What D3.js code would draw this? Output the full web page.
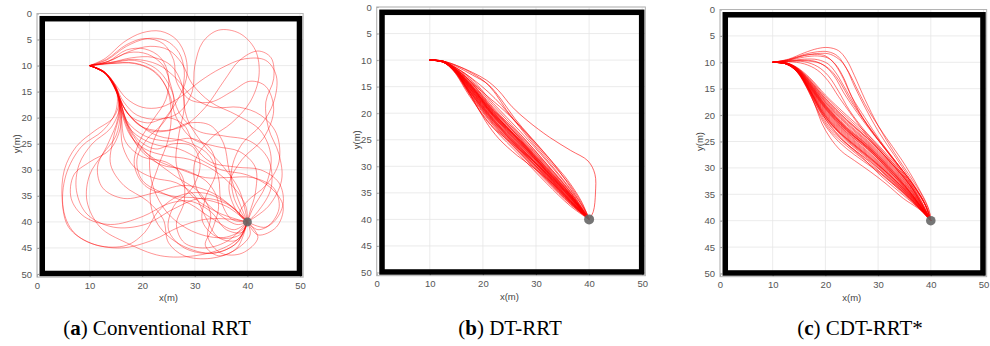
<!DOCTYPE html>
<html>
<head>
<meta charset="utf-8">
<script src="https://cdn.jsdelivr.net/npm/d3@7"></script>
<style>
  body { margin: 0; background: #fff; }
  svg { display: block; }
</style>
</head>
<body>
<svg id="chart" width="990" height="346"></svg>
<script>
// ---- data ----
const xTicks = [0, 10, 20, 30, 40, 50]
const yTicks = [0, 5, 10, 15, 20, 25, 30, 35, 40, 45, 50]
const xLabel = "x(m)"
const yLabel = "y(m)"
const startPoint = [10, 10]
const goalPoint = [40, 40]
const wallMin = 1
const wallMax = 49.9
const captionTags = ["a", "b", "c"]
const captionNames = [" Conventional RRT", " DT-RRT", " CDT-RRT*"]

// conventional RRT: loopy paths
const pathsA = [
  [[10,10],[13,8.6],[16.5,5.5],[20,3.7],[23.5,3.4],[26.5,5],[28.3,8.5],[28.4,12.5],[26.5,17],[23.5,21.5],[21.5,27],[22,33],[25,38.5],[30,42],[35.5,43],[39,41.5],[40,40]],
  [[10,10],[13.3,8.9],[17,6.3],[21,4.8],[24.5,5.2],[27,7.5],[28,11],[27.8,15],[28.5,20],[31.5,25],[35.5,29.5],[38.5,34],[40,40]],
  [[10,10],[13.6,9.2],[17.5,7.3],[21.5,6.3],[25,7],[27.5,9.5],[29.5,13.5],[33,17],[38,19.5],[42.5,22.5],[44.5,27.5],[43.5,33],[41,37.5],[40,40]],
  [[10,10],[14,9.4],[18,8.5],[22,8.4],[25.5,10],[27.5,13.5],[28,18],[27,23],[26.5,29],[29,34.5],[34,38],[38,39.5],[40,40]],
  [[10,10],[14.2,9.6],[18.5,9.6],[22,11],[24.5,14],[25.5,18.5],[25,24],[23,29.5],[21.5,35],[23,40.5],[27.5,44.5],[33.5,46],[38,44],[40,40]],
  [[10,10],[12.8,11.2],[14.8,13.5],[17,16.3],[20,18],[23.5,18],[27,16.2],[31,13],[35,10.5],[39.5,8.7],[43.5,9],[45.5,12],[45,17],[42.5,21.5],[39,25],[37,30],[37.5,35.5],[40,40]],
  [[10,10],[12.8,11.3],[14.9,14],[16.5,17],[19,19.5],[23,20.3],[27,19],[29.5,15],[30,10],[31.5,5.5],[34.5,3.2],[38.5,3.8],[41.5,7],[42.2,12],[40.5,17],[37,21],[33,24],[30,28.5],[30.5,34],[34,38],[38,40.5],[40,40]],
  [[10,10],[12.8,11.2],[15,14.5],[16.8,18.5],[19.5,21.5],[23.5,22.5],[28,21.5],[32,18],[35.5,13],[38.5,9],[42,7.2],[44.5,8.5],[45,12.5],[43.5,17],[44,22],[46,27],[46.5,32],[44,37],[40,40]],
  [[10,10],[12.8,11.2],[14.9,13.8],[15.6,17],[14.5,20],[11,22.5],[7.5,25.5],[5.2,30],[4.8,36],[6,41],[10,44],[16,45],[22,43.5],[27,41],[32,39.5],[37,39.5],[40,40]],
  [[10,10],[12.8,11.3],[15,14.3],[15.7,18],[14,22],[10.5,25],[8,29],[7.5,34],[9.5,38.5],[14.5,41],[20.5,40.5],[26,37.5],[31,35.5],[36,36.5],[40,40]],
  [[10,10],[12.9,11.4],[15.1,14.8],[15.8,19],[15,23.5],[12.5,27],[10,31],[9.5,36],[12,41],[17,44],[23.5,46.5],[30,46.5],[35.5,45],[39,42.5],[40,40]],
  [[10,10],[12.9,11.4],[15.2,15],[16.2,19.5],[17.8,23.5],[20.5,26],[24.5,27.3],[29,28],[33.5,30],[37.5,33.5],[39.7,37],[40,40]],
  [[10,10],[13,11.5],[15.4,15.4],[16.8,20],[19,24],[22.5,26],[26,25],[29.5,25.5],[31,29],[29.5,33.5],[26,37],[25,41.5],[28,45],[33.5,46],[38,44],[40,40]],
  [[10,10],[12.9,11.4],[15.2,15.2],[15.4,20],[13.5,25],[11.5,29.5],[12.5,33.5],[16.5,35.5],[22,34.5],[28,33],[33.5,34.5],[37.5,37.5],[40,40]],
  [[10,10],[13,11.6],[15.5,16],[17,21],[19.5,26],[23.5,29],[28,30],[32.5,32.5],[34.5,36.5],[33.5,41],[32,44.5],[34.5,46.5],[38,45],[40,40]],
  [[10,10],[12.9,11.3],[15.1,14.6],[16.2,17.5],[18.5,20.5],[21.5,22.5],[25,22.5],[29,21],[33,21.5],[35.5,25],[36.5,30],[38,35],[40,40]],
  [[10,10],[13,11.5],[15.3,15.6],[15.9,20.5],[16.3,25.5],[18.5,29.5],[22,31.5],[26.5,32.5],[30,35],[32,39],[34.5,43],[38,43.5],[40,40]],
  [[10,10],[12.9,11.3],[15.1,14.8],[14.9,19],[12.5,22.5],[8.5,25.5],[5.5,31],[5,37.5],[7,42],[11.5,44.5],[17,44.5],[20.5,42],[23,38],[27,35],[32,34.5],[37,37],[40,40]],
  [[10,10],[13,11.5],[15.4,15.5],[17.5,19.5],[21,21],[25,20],[28,21.5],[30,25.5],[33,28.5],[38,29.5],[42.5,30],[46,32.5],[46.8,36.5],[45,40],[42,41.5],[40,40]],
  [[10,10],[13.5,9.2],[17.5,7.5],[21,7.8],[24,10],[25.5,14],[27,19],[30.5,22.5],[35.5,23.5],[40.5,24.5],[44,28],[44.5,33.5],[42,38],[40,40]],
  [[10,10],[13,11.5],[15.3,15.3],[16.5,20],[18.5,24.5],[22.5,28],[27.5,30],[32,31.5],[36,31.5],[41,31.5],[45,33.5],[46,37.5],[43.5,41],[40,40]],
  [[10,10],[13,11.6],[15.5,16],[17.5,22],[21,27],[26,31],[31,34.5],[33,38.5],[32.5,43],[35,46],[39,46],[42,43],[40,40]],
  [[10,10],[12.9,11.4],[15.2,14.8],[15.7,19],[14.5,24],[14,29],[16.5,33],[21,36],[24,39.5],[25,44],[28,46.5],[33,47],[37.5,45.5],[40.5,42.5],[40,40]],
  [[10,10],[14,9.6],[18.5,9.5],[22.5,11.2],[25,15],[26.5,20],[29.5,24],[34,25.5],[38.5,26.5],[41.5,29.5],[41.5,34.5],[40.5,38],[40,40]],
  [[10,10],[13,11.5],[15.4,15.5],[17,20.5],[20.5,23.5],[25,24.5],[29.5,24],[33,26],[34,30.5],[32,35.5],[31.5,40],[34.5,43],[38.5,42.5],[40,40]],
  [[10,10],[13.5,9.2],[17,7],[20.5,6.8],[23.5,8.5],[25,12],[24.5,16.5],[22,20.5],[19.5,24.5],[18.5,29],[20.5,33],[25.5,35],[31,35.5],[36,37],[40,40]],
  [[10,10],[12.8,11.2],[15,14],[16.2,17.5],[19,21],[23,23.5],[28,24.5],[32.5,27],[34.5,31.5],[35,36],[37,39.5],[40,40]],
  [[10,10],[14,9.4],[18.5,8.8],[23,9.8],[26.5,12.5],[29.5,16],[33.5,18],[38.5,18],[42.5,19.5],[45.5,23],[46,28.5],[43.5,33],[40,36],[38.5,38.5],[40,40]],
  [[10,10],[12.9,11.4],[15.2,15],[16,19.5],[16.8,24.5],[20,27.5],[24.5,28.5],[27.5,31],[28,36],[26.5,40.5],[28,44],[32,45],[36.5,43.5],[40,40]],
  [[10,10],[13.2,8.8],[17,6],[20.5,4.8],[24,5.8],[26,9],[26.5,13],[29,16.5],[33,17],[37,15],[40.5,13],[43.5,14],[45,18.5],[43,24],[39,28],[36.5,33],[38,38],[40,40]],
  [[10,10],[12.9,11.3],[15.1,14.7],[16,18.5],[18,22.5],[22,25],[27,26],[31,28],[35,30],[40,31],[44.5,33.5],[46.8,37],[45.5,41],[42,42.5],[40,40]],
  [[10,10],[13,11.5],[15.3,15.4],[16,21],[14,26],[10,28.5],[7,31],[6.5,35.5],[9,39],[14,40.5],[20,39],[25,36.5],[29,36],[33,38],[36,41.5],[39,42],[40,40]],
  [[10,10],[14,9.5],[18.5,9],[22.5,10.5],[25,13.5],[26,17],[24,21],[21,24],[19,28],[20,32],[24,34.5],[29,36.5],[33.5,39.5],[37.5,41.5],[40,40]]
]

// DT-RRT: tight diagonal bundle plus a few outliers
const pathsB = [
  [[10,10],[12.5,10.2],[15,11],[18,12.3],[20.7,13.8],[23,15.8],[25.5,18.8],[28.5,21.5],[32.5,24.5],[36.5,27],[39.8,29],[41.1,31.5],[41.2,35],[40.8,38.5],[40,40]],
  [[10,10],[12.5,10.2],[15,11],[18,12.5],[20.5,14.2],[22.5,16.5],[24.5,19.5],[27,22.5],[30,26],[33,29.5],[36,33],[38.5,36.8],[40,40]],
  [[10,10],[12.5,10.2],[15,11.2],[18,12.8],[21,14.6],[23.5,17.5],[26,21],[29,24.5],[32.5,28.5],[35.5,32.5],[38,36.3],[40,40]],
  [[10,10],[12.5,10.3],[14.8,11.6],[17.5,13.8],[20.5,16.5],[24,19.5],[28,23.5],[32,28],[35.5,32],[38.5,36.5],[40,40]],
  [[10,10],[12.5,10.3],[14.5,11.8],[16.5,14.5],[18.5,18],[20.5,21.5],[23,24.8],[26.5,28],[30.5,31],[34.5,34.5],[38,38.2],[40,40]],
  [[10,10],[12.5,10.3],[14.5,11.8],[16.8,15.2],[19,19],[21.5,22.3],[25,25.3],[29,28.6],[33.5,32.8],[37.5,37],[40,40]],
  [[10,10],[12.5,10.3],[15,11.5],[18,13.5],[21,16],[23.5,18.5],[26,21.5],[29.5,25.8],[33.5,30.5],[37,35],[39.5,38.7],[40,40]],
  [[10,10],[12.5,10.3],[14.5,11.6],[17.5,15.0],[22,20.5],[27,25.8],[32,31.2],[36.5,36.0],[40,40]],
  [[10,10],[12.5,10.3],[14.5,11.5],[17.5,14.6],[22,20.0],[27,25.2],[32,30.6],[36.5,35.6],[40,40]],
  [[10,10],[12.5,10.3],[14.5,11.7],[17.5,15.4],[22,21.0],[27,26.3],[32,31.7],[36.5,36.4],[40,40]],
  [[10,10],[12.5,10.2],[14.5,11.4],[17.5,14.2],[22,19.5],[27,24.7],[32,30.2],[36.5,35.3],[40,40]],
  [[10,10],[12.5,10.3],[14.5,11.8],[17.5,15.8],[22,21.5],[27,26.9],[32,32.2],[36.5,36.7],[40,40]],
  [[10,10],[12.5,10.3],[14.5,11.6],[17.5,14.8],[22,19.8],[27,25.5],[32,31.0],[36.5,35.8],[40,40]],
  [[10,10],[12.5,10.3],[14.5,11.6],[17.5,15.2],[22,20.8],[27,26.0],[32,31.5],[36.5,36.2],[40,40]],
  [[10,10],[12.5,10.2],[14.5,11.3],[17.5,13.8],[22,19.0],[27,24.3],[32,29.8],[36.5,35.0],[40,40]],
  [[10,10],[12.5,10.4],[14.5,11.9],[17.5,16.2],[22,22.0],[27,27.3],[32,32.5],[36.5,37.0],[40,40]],
  [[10,10],[12.5,10.3],[14.5,11.5],[17.5,14.4],[22,20.3],[27,25.0],[32,30.9],[36.5,35.5],[40,40]],
  [[10,10],[12.5,10.3],[14.5,11.7],[17.5,15.6],[22,21.2],[27,26.6],[32,31.4],[36.5,36.1],[40,40]],
  [[10,10],[12.5,10.3],[14.5,11.6],[17.5,14.9],[22,20.2],[27,25.6],[32,30.8],[36.5,35.9],[40,40]],
  [[10,10],[12.5,10.3],[14.5,11.6],[17.5,15.1],[22,20.6],[27,25.9],[32,31.3],[36.5,36.3],[40,40]],
  [[10,10],[12.5,10.2],[14.5,11.2],[17.5,13.5],[22,18.6],[27,23.9],[32,29.5],[36.5,34.8],[40,40]],
  [[10,10],[12.5,10.4],[14.5,12.0],[17.5,16.5],[22,22.4],[27,27.6],[32,32.8],[36.5,37.2],[40,40]],
  [[10,10],[12.5,10.3],[14.5,11.5],[17.5,14.7],[22,20.4],[27,25.4],[32,31.1],[36.5,35.7],[40,40]],
  [[10,10],[12.5,10.3],[14.5,11.7],[17.5,15.3],[22,20.7],[27,26.2],[32,31.6],[36.5,36.5],[40,40]],
  [[10,10],[12.5,10.2],[14.5,11.4],[17.5,14.0],[22,19.2],[27,24.8],[32,30.4],[36.5,35.4],[40,40]],
  [[10,10],[12.5,10.4],[14.5,11.8],[17.5,15.9],[22,21.7],[27,27.0],[32,32.0],[36.5,36.8],[40,40]],
  [[10,10],[12.5,10.3],[14.5,11.5],[17.5,14.5],[22,19.9],[27,25.3],[32,30.7],[36.5,35.6],[40,40]],
  [[10,10],[12.5,10.2],[14.5,11.2],[17.5,13.2],[22,18.2],[27,23.4],[32,29.0],[36.5,34.5],[40,40]],
  [[10,10],[12.5,10.4],[14.5,12.1],[17.5,16.8],[22,22.8],[27,28.0],[32,33.2],[36.5,37.5],[40,40]],
  [[10,10],[12.5,10.3],[14.5,11.5],[17.5,14.3],[22,19.6],[27,24.5],[32,30.0],[36.5,35.2],[40,40]],
  [[10,10],[12.5,10.3],[14.5,11.8],[17.5,15.7],[22,21.4],[27,26.8],[32,31.9],[36.5,36.6],[40,40]],
  [[10,10],[12.5,10.3],[14.5,11.6],[17.5,14.6],[22,20.1],[27,25.1],[32,30.5],[36.5,35.4],[40,40]],
  [[10,10],[12.5,10.3],[14.5,11.7],[17.5,15.5],[22,21.3],[27,26.5],[32,31.8],[36.5,36.6],[40,40]],
  [[10,10],[12.5,10.2],[14.5,11.4],[17.5,13.9],[22,19.4],[27,24.0],[32,29.6],[36.5,34.9],[40,40]],
  [[10,10],[12.5,10.4],[14.5,11.9],[17.5,16.0],[22,21.9],[27,27.1],[32,32.3],[36.5,36.9],[40,40]],
  [[10,10],[12.5,10.3],[14.5,11.6],[17.5,15.0],[22,20.5],[27,25.7],[32,31.0],[36.5,36.0],[40,40]],
  [[10,10],[12.5,10.3],[14.5,11.5],[17.5,14.4],[22,19.7],[27,25.0],[32,30.3],[36.5,35.3],[40,40]],
  [[10,10],[12.5,10.3],[14.5,11.7],[17.5,15.3],[22,21.1],[27,26.4],[32,31.5],[36.5,36.4],[40,40]],
  [[10,10],[12.5,10.4],[14.5,12.0],[17.5,16.3],[22,22.2],[27,27.5],[32,32.6],[36.5,37.1],[40,40]],
  [[10,10],[12.5,10.3],[14.5,11.6],[17.5,14.8],[22,20.3],[27,25.3],[32,30.8],[36.5,35.7],[40,40]],
  [[10,10],[12.5,10.3],[14.5,11.8],[17.5,15.9],[22,21.6],[27,26.7],[32,32.1],[36.5,36.8],[40,40]]
]

// CDT-RRT*: wider fan, upper arcs and lower bends
const pathsC = [
  [[10,10],[13,9.4],[16,8.2],[18.5,7.4],[20.5,7.2],[22.5,7.8],[24,9.5],[25.5,12.5],[27.5,17],[30,22],[33,27],[36,31.5],[38.5,35.5],[39.8,38.5],[40,40]],
  [[10,10],[13,9.5],[16,8.5],[18.5,8],[20.5,8],[22.3,8.8],[24,11.2],[25.5,14.5],[27.5,18.5],[30,23],[33,27.5],[36,32],[38.5,36],[40,40]],
  [[10,10],[13,9.6],[16,9],[18.5,8.8],[20.5,9.2],[22,10.5],[23.5,13],[25,16.5],[27.5,20.5],[30.5,25],[33.5,29],[36.5,33],[39,37],[40,40]],
  [[10,10],[13,9.7],[16,9.4],[18.5,9.5],[20.5,10.3],[22,12],[23.5,14.5],[25.5,18],[28,22],[31,26],[34,30],[37,34],[39.2,37.5],[40,40]],
  [[10,10],[13,9.8],[16,9.7],[19,10.2],[21,11.5],[22.8,13.8],[24.5,16.8],[27,20.5],[30,24.5],[33.5,29],[36.5,33],[39,37],[40,40]],
  [[10,10],[13,9.8],[16,9.9],[18.5,10.8],[20.5,12.5],[22.5,15.5],[24.5,19],[27.5,23],[31,27],[34.5,31],[37.5,35],[40,40]],
  [[10,10],[13,9.6],[16,8.7],[18.5,8.5],[20,8.8],[21.5,10],[23,12.3],[24.5,15.5],[26.5,19.5],[29.5,24],[33,28.5],[36.5,33],[39,37.2],[40,40]],
  [[10,10],[13,9.9],[16,10.3],[18.5,11.5],[20.5,13.5],[22.5,16.5],[25,20],[28,24],[31.5,28],[35,32],[38,36],[40,40]],
  [[10,10],[13,9.5],[16,8.7],[19,8.3],[21,8.5],[23,9.8],[24.5,12],[26,15],[28,18.8],[31,23.5],[34.5,28.5],[37.5,33.5],[39.5,37.5],[40,40]],
  [[10,10],[13,9.8],[15.5,9.6],[18,9.8],[20,10.8],[21.8,12.8],[23.5,15.8],[26,19.5],[29,23.5],[32.5,27.8],[36,32.3],[38.7,36.5],[40,40]],
  [[10,10],[12.5,10.2],[14.5,11.5],[16.5,14.5],[18,18],[19.3,21.5],[20.9,24.3],[23,26.8],[25.5,28.6],[28.5,30.7],[31.5,33],[34.8,35.8],[37.5,37.6],[39.5,39.2],[40,40]],
  [[10,10],[12.5,10.2],[14.5,11.5],[16.5,14.8],[18.2,18.5],[20,22],[22.5,25],[25.5,27.5],[29,30],[32.5,32.8],[36,35.8],[38.8,38.6],[40,40]],
  [[10,10],[12.5,10.3],[14.5,11.7],[16.8,15.5],[18.8,19.5],[21,23],[24,25.8],[27.5,28.6],[31.5,31.8],[35.5,35.2],[38.5,38.3],[40,40]],
  [[10,10],[12.5,10.3],[14.8,12],[17.2,16],[19.5,20],[22.5,23.2],[26,26.2],[30,29.5],[34,33],[37.5,36.8],[40,40]],
  [[10,10],[12.5,10.2],[14.5,11.5],[16.5,14.2],[18.5,18],[20.5,21.5],[23.5,25],[27,28],[30.5,31.5],[34,34.5],[37,37],[39.3,38.8],[40,40]],
  [[10,10],[12.5,10.2],[14.5,11.4],[16.6,14.6],[18.6,18.7],[21,22.6],[24.5,25.8],[28.5,28.8],[32.5,32.2],[36.5,35.8],[40,40]],
  [[10,10],[12.5,10.3],[14.6,11.6],[17,15.2],[19.2,19.2],[22,22.6],[25.5,25.6],[29.5,28.9],[33.5,32.6],[37,36],[40,40]],
  [[10,10],[12.5,10.2],[14.5,11.3],[17,14.3],[20,18.5],[24,22.8],[28,26.0],[32,30.0],[36,34.5],[40,40]],
  [[10,10],[12.5,10.2],[14.5,11.2],[17,13.8],[20,17.6],[24,21.8],[28,25.2],[32,29.2],[36,33.8],[40,40]],
  [[10,10],[12.5,10.3],[14.5,11.5],[17,14.8],[20,19.3],[24,23.7],[28,27.0],[32,30.9],[36,35.2],[40,40]],
  [[10,10],[12.5,10.1],[14.5,11.0],[17,13.3],[20,16.8],[24,20.8],[28,24.3],[32,28.5],[36,33.2],[40,40]],
  [[10,10],[12.5,10.3],[14.5,11.6],[17,15.2],[20,20.0],[24,24.5],[28,27.8],[32,31.6],[36,35.6],[40,40]],
  [[10,10],[12.5,10.2],[14.5,11.2],[17,14.0],[20,18.0],[24,22.3],[28,25.6],[32,29.6],[36,34.1],[40,40]],
  [[10,10],[12.5,10.2],[14.5,11.4],[17,14.6],[20,18.9],[24,23.3],[28,26.5],[32,30.5],[36,34.8],[40,40]],
  [[10,10],[12.5,10.1],[14.5,10.9],[17,12.9],[20,16.2],[24,20.0],[28,23.6],[32,27.8],[36,32.7],[40,40]],
  [[10,10],[12.5,10.3],[14.5,11.7],[17,15.6],[20,20.7],[24,25.3],[28,28.6],[32,32.3],[36,36.0],[40,40]],
  [[10,10],[12.5,10.2],[14.5,11.3],[17,14.2],[20,18.3],[24,22.5],[28,25.8],[32,29.8],[36,34.4],[40,40]],
  [[10,10],[12.5,10.2],[14.5,11.1],[17,13.6],[20,17.3],[24,21.4],[28,24.8],[32,28.8],[36,33.5],[40,40]],
  [[10,10],[12.5,10.3],[14.5,11.5],[17,15.0],[20,19.7],[24,24.1],[28,27.4],[32,31.3],[36,35.4],[40,40]],
  [[10,10],[12.5,10.2],[14.5,11.4],[17,14.5],[20,18.7],[24,23.0],[28,26.2],[32,30.2],[36,34.6],[40,40]],
  [[10,10],[12.5,10.1],[14.5,11.0],[17,13.1],[20,16.5],[24,20.4],[28,24.0],[32,28.2],[36,33.0],[40,40]],
  [[10,10],[12.5,10.3],[14.5,11.6],[17,15.4],[20,20.3],[24,24.9],[28,28.2],[32,32.0],[36,35.8],[40,40]],
  [[10,10],[12.5,10.2],[14.5,11.3],[17,14.1],[20,18.2],[24,22.6],[28,26.3],[32,30.4],[36,34.9],[40,40]],
  [[10,10],[12.5,10.2],[14.5,11.4],[17,14.7],[20,19.1],[24,23.5],[28,26.8],[32,30.7],[36,35.0],[40,40]],
  [[10,10],[12.5,10.1],[14.5,11.1],[17,13.5],[20,17.1],[24,21.1],[28,24.5],[32,28.6],[36,33.3],[40,40]],
  [[10,10],[12.5,10.2],[14.5,11.2],[17,13.9],[20,17.8],[24,22.1],[28,25.4],[32,29.4],[36,34.0],[40,40]],
  [[10,10],[12.5,10.3],[14.5,11.5],[17,14.9],[20,19.5],[24,23.9],[28,27.2],[32,31.1],[36,35.3],[40,40]],
  [[10,10],[12.5,10.2],[14.5,11.4],[17,14.4],[20,18.6],[24,22.9],[28,26.1],[32,30.1],[36,34.6],[40,40]],
  [[10,10],[12.5,10.1],[14.5,11.0],[17,13.4],[20,16.9],[24,20.9],[28,24.4],[32,28.5],[36,33.2],[40,40]],
  [[10,10],[12.5,10.3],[14.5,11.6],[17,15.3],[20,20.2],[24,24.7],[28,28.0],[32,31.8],[36,35.7],[40,40]],
  [[10,10],[12.5,10.2],[14.5,11.4],[17,14.6],[20,18.8],[24,23.2],[28,26.4],[32,30.4],[36,34.7],[40,40]],
  [[10,10],[12.5,10.2],[14.5,11.2],[17,14.0],[20,18.1],[24,22.4],[28,25.7],[32,29.7],[36,34.3],[40,40]],
  [[10,10],[12.5,10.3],[14.5,11.5],[17,15.1],[20,19.9],[24,24.3],[28,27.6],[32,31.4],[36,35.5],[40,40]],
  [[10,10],[12.5,10.1],[14.5,11.1],[17,13.7],[20,17.5],[24,21.6],[28,25.0],[32,29.0],[36,33.7],[40,40]],
  [[10,10],[12.5,10.2],[14.5,11.3],[17,14.3],[20,18.4],[24,22.7],[28,26.0],[32,30.0],[36,34.5],[40,40]]
]

// ---- layout ----
const panels = [
  { paths: pathsA, left: 37, top: 13.5, kx: 5.26, ky: 5.21, opacity: 0.6, width: 0.7, r: 4.5, capX: 157 },
  { paths: pathsB, left: 376.7, top: 7, kx: 5.31, ky: 5.31, opacity: 0.6, width: 1, r: 5, capX: 510 },
  { paths: pathsC, left: 720, top: 9.5, kx: 5.27, ky: 5.28, opacity: 0.6, width: 0.9, r: 4.8, capX: 860 }
]
const axisMax = 50.6

const svg = d3.select("#chart")

panels.forEach((p, i) => {
    const w = axisMax * p.kx
    const h = axisMax * p.ky
    const x = d3.scaleLinear().domain([0, axisMax]).range([0, w])
    const y = d3.scaleLinear().domain([0, axisMax]).range([0, h])

    const g = svg.append("g").attr("transform", `translate(${p.left},${p.top})`)

    // grid
    g.append("g")
        .selectAll("line")
        .data(xTicks)
        .join("line")
        .attr("x1", (d) => x(d))
        .attr("x2", (d) => x(d))
        .attr("y1", 0)
        .attr("y2", h)
        .attr("stroke", "#e6e6e6")
        .attr("stroke-width", 0.8)
    g.append("g")
        .selectAll("line")
        .data(yTicks)
        .join("line")
        .attr("x1", 0)
        .attr("x2", w)
        .attr("y1", (d) => y(d))
        .attr("y2", (d) => y(d))
        .attr("stroke", "#e6e6e6")
        .attr("stroke-width", 0.8)

    // axes
    const xAxis = g.append("g")
        .attr("transform", `translate(0,${h})`)
        .call(d3.axisBottom(x).tickValues(xTicks).tickSize(-2).tickPadding(5))
    const yAxis = g.append("g")
        .call(d3.axisLeft(y).tickValues(yTicks).tickSize(-2).tickPadding(5))
    ;[xAxis, yAxis].forEach((a) => {
        a.select(".domain").remove()
        a.selectAll("line").attr("stroke", "#999")
        a.selectAll("text")
            .attr("fill", "#555")
            .style("font-family", "Liberation Sans, Arial, sans-serif")
            .style("font-size", "9.5px")
    })

    // axis frame
    g.append("rect")
        .attr("width", w)
        .attr("height", h)
        .attr("fill", "none")
        .attr("stroke", "#b4b4b4")
        .attr("stroke-width", 1)

    // walls
    g.append("rect")
        .attr("x", x(wallMin))
        .attr("y", y(wallMin))
        .attr("width", x(wallMax) - x(wallMin))
        .attr("height", y(wallMax) - y(wallMin))
        .attr("fill", "none")
        .attr("stroke", "#000")
        .attr("stroke-width", 5.5)

    // paths
    const line = d3.line()
        .x((d) => x(d[0]))
        .y((d) => y(d[1]))
        .curve(d3.curveCatmullRom.alpha(0.5))
    g.append("g")
        .selectAll("path")
        .data(p.paths)
        .join("path")
        .attr("d", line)
        .attr("fill", "none")
        .attr("stroke", "#ff0000")
        .attr("stroke-opacity", p.opacity)
        .attr("stroke-width", p.width)

    // goal
    g.append("circle")
        .attr("cx", x(goalPoint[0]))
        .attr("cy", y(goalPoint[1]))
        .attr("r", p.r)
        .attr("fill", "#666")
        .attr("fill-opacity", 0.9)

    // axis titles
    g.append("text")
        .attr("x", x(25))
        .attr("y", h + 24)
        .attr("text-anchor", "middle")
        .attr("fill", "#444")
        .style("font-family", "Liberation Sans, Arial, sans-serif")
        .style("font-size", "9.5px")
        .text(xLabel)
    g.append("text")
        .attr("transform", `translate(-17,${y(25)}) rotate(-90)`)
        .attr("text-anchor", "middle")
        .attr("fill", "#444")
        .style("font-family", "Liberation Sans, Arial, sans-serif")
        .style("font-size", "9.5px")
        .text(yLabel)

    // caption
    const cap = svg.append("text")
        .attr("x", p.capX)
        .attr("y", 335)
        .attr("text-anchor", "middle")
        .style("font-family", "Liberation Serif, serif")
        .style("font-size", "21px")
        .attr("fill", "#000")
    cap.append("tspan").text("(")
    cap.append("tspan").style("font-weight", "bold").text(captionTags[i])
    cap.append("tspan").text(")" + captionNames[i])
})
</script>
</body>
</html>
